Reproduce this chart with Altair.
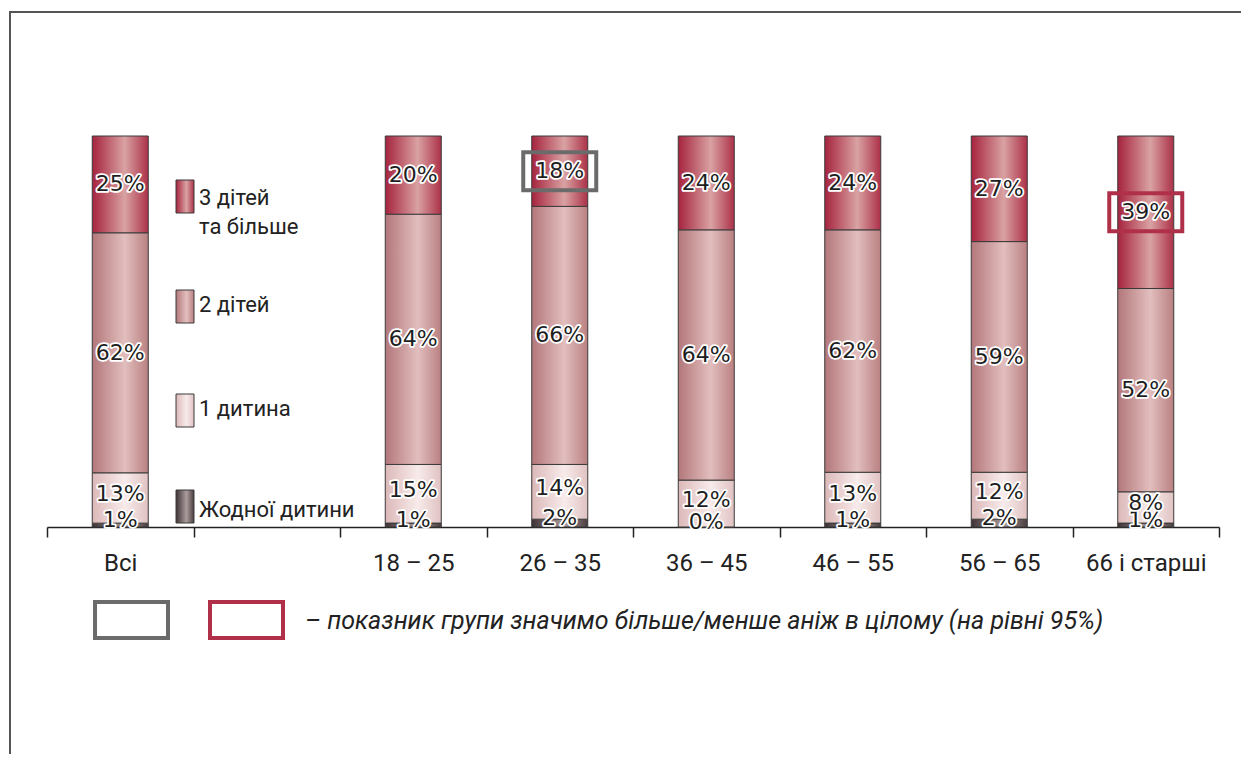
import altair as alt
import pandas as pd

# ---------------- data ----------------
groups = ["Всі", "18 – 25", "26 – 35", "36 – 45", "46 – 55", "56 – 65", "66 і старші"]
axis_order = ["Всі", " ", "18 – 25", "26 – 35", "36 – 45", "46 – 55", "56 – 65", "66 і старші"]
categories = ["Жодної дитини", "1 дитина", "2 дітей", "3 дітей та більше"]
none_child = [1, 1, 2, 0, 1, 2, 1]
one_child = [13, 15, 14, 12, 13, 12, 8]
two_children = [62, 64, 66, 64, 62, 59, 52]
three_plus = [25, 20, 18, 24, 24, 27, 39]
sig_groups = ["26 – 35", "66 і старші"]
sig_categories = ["3 дітей та більше", "3 дітей та більше"]
sig_direction = ["lower", "higher"]
note_text = "– показник групи значимо більше/менше аніж в цілому (на рівні 95%)"

series = [none_child, one_child, two_children, three_plus]
rows = []
for i, g in enumerate(groups):
    for k, cat in enumerate(categories):
        v = series[k][i]
        sig = ""
        for sg, sc, sd in zip(sig_groups, sig_categories, sig_direction):
            if sg == g and sc == cat:
                sig = sd
        rows.append({"group": g, "cat": cat, "order": k, "value": v,
                     "label": f"{v}%", "sig": sig})
df = pd.DataFrame(rows)

# ---------------- styles ----------------
def grad(c0, c1, c2):
    return alt.Gradient(
        gradient="linear",
        stops=[alt.GradientStop(color=c0, offset=0),
               alt.GradientStop(color=c1, offset=0.58),
               alt.GradientStop(color=c2, offset=1)],
        x1=0, x2=1, y1=0, y2=0)

fills = {
    "Жодної дитини": grad("#3e3234", "#aa9c9d", "#4a3d3f"),
    "1 дитина": grad("#dcb8b8", "#f8ebeb", "#e0c2c2"),
    "2 дітей": grad("#b3777a", "#e2bebe", "#b98081"),
    "3 дітей та більше": grad("#a6233e", "#d9a2a3", "#ac3148"),
}
label_dy = {"Жодної дитини": -5, "1 дитина": -4, "2 дітей": 0, "3 дітей та більше": 0}

W, H = 1172, 391

X = alt.X("group:N",
          scale=alt.Scale(domain=axis_order, paddingInner=0, paddingOuter=0),
          axis=alt.Axis(title=None, tickBand="extent", domainColor="#222",
                        domainWidth=1.5, tickColor="#222", tickWidth=1.5,
                        tickSize=10, labelPadding=14, labelFontSize=24,
                        labelFont="Roboto", labelColor="#222", labelAngle=0,
                        grid=False))
Y = alt.Y("y0:Q", scale=alt.Scale(domain=[0, 1]), axis=None)

base = (alt.Chart(df)
        .transform_joinaggregate(total="sum(value)", groupby=["group"])
        .transform_calculate(share="datum.value / datum.total")
        .transform_stack(stack="share", groupby=["group"], as_=["y0", "y1"],
                         sort=[alt.SortField("order", order="ascending")])
        .transform_calculate(mid="(datum.y0 + datum.y1) / 2"))

layers = []
for cat in categories:
    layers.append(
        base.transform_filter(alt.datum.cat == cat)
        .mark_bar(width=56, color=fills[cat], stroke="#3a3a3a", strokeWidth=1)
        .encode(x=X, y=Y, y2="y1:Q"))

for cat in categories:
    for halo in (True, False):
        kw = dict(font="DejaVu Sans", fontSize=22, dy=label_dy[cat],
                  baseline="middle", align="center")
        if halo:
            kw.update(fill="white", stroke="white", strokeWidth=3.5, strokeJoin="round")
        else:
            kw.update(fill="#1e1e1e")
        layers.append(
            base.transform_filter(alt.datum.cat == cat)
            .mark_text(**kw)
            .encode(x=X, y=alt.Y("mid:Q", scale=alt.Scale(domain=[0, 1]), axis=None),
                    text="label:N"))

box_path = "M-1,-0.52H1V0.52H-1Z"
for sd, col in (("lower", "#6b6b6b"), ("higher", "#b0304a")):
    layers.append(
        base.transform_filter(alt.datum.sig == sd)
        .mark_point(shape=box_path, size=5329, filled=False, stroke=col,
                    strokeWidth=4, opacity=1)
        .encode(x=X, y=alt.Y("mid:Q", scale=alt.Scale(domain=[0, 1]), axis=None)))

one = pd.DataFrame({"a": [0]})

# legend (inside the blank band)
leg_y = [(354, 387), (258, 291), (154, 187), (44, 77)]
leg_text = {"Жодної дитини": [(374, "Жодної дитини")],
            "1 дитина": [(273, "1 дитина")],
            "2 дітей": [(169, "2 дітей")],
            "3 дітей та більше": [(62, "3 дітей"), (91, "та більше")]}
for cat, (y1, y2) in zip(categories, leg_y):
    layers.append(alt.Chart(one).mark_rect(color=fills[cat], stroke="#3a3a3a", strokeWidth=1)
                  .encode(x=alt.value(129), x2=alt.value(147), y=alt.value(y1), y2=alt.value(y2)))
    for ty, t in leg_text[cat]:
        layers.append(alt.Chart(one).mark_text(align="left", baseline="middle", font="Roboto",
                                               fontSize=22, color="#222")
                      .encode(x=alt.value(152), y=alt.value(ty), text=alt.value(t)))

# significance note
for x1, col in ((48, "#6b6b6b"), (163, "#b0304a")):
    layers.append(alt.Chart(one).mark_rect(fillOpacity=0, stroke=col, strokeWidth=4)
                  .encode(x=alt.value(x1), x2=alt.value(x1 + 73), y=alt.value(466), y2=alt.value(502)))
layers.append(alt.Chart(one).mark_text(align="left", baseline="middle", font="Roboto",
                                       fontStyle="italic", fontSize=25, color="#222")
              .encode(x=alt.value(258), y=alt.value(485), text=alt.value(note_text)))

# frame
layers.append(alt.Chart(one).mark_rule(color="#555", strokeWidth=2)
              .encode(x=alt.value(-37), y=alt.value(-124), y2=alt.value(640)))
layers.append(alt.Chart(one).mark_rule(color="#555", strokeWidth=2)
              .encode(x=alt.value(-38), x2=alt.value(1200), y=alt.value(-124)))

chart = (alt.layer(*layers)
         .properties(width=W, height=H,
                     autosize=alt.AutoSizeParams(type="none"),
                     padding={"left": 39, "top": 128, "right": 22, "bottom": 227},
                     background="white")
         .configure_view(stroke=None))

chart.save("out.html", embed_options={"renderer": "svg", "actions": False})
